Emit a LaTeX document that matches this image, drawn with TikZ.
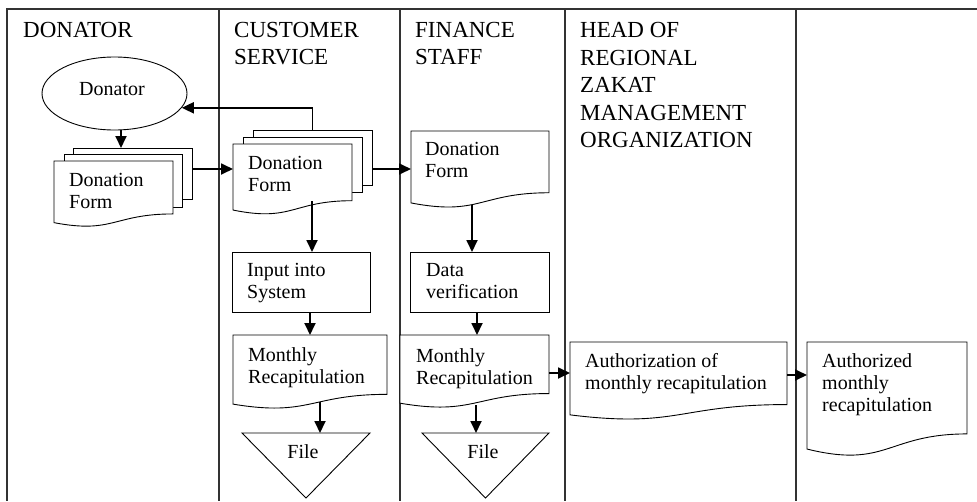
\documentclass[tikz,border=0pt]{standalone}
\usepackage{fontspec}
\setmainfont{Liberation Serif}
\usetikzlibrary{shapes.geometric,arrows.meta,calc}
\newcommand\docshape[1]{\draw[outl] (#1.north west) -- (#1.north east) -- ($(#1.north east)!0.802!(#1.south east)$) .. controls ($(#1.north)!0.802!(#1.south)$) and ($(#1.north)!1.107!(#1.south)$) .. ($(#1.north west)!0.934!(#1.south west)$) -- cycle;}
\newcommand\rectshape[1]{\draw[outl] (#1.north west) rectangle (#1.south east);}
\newcommand\fileshape[1]{\draw[outl] (#1.north west) -- (#1.north east) -- (#1.south) -- cycle;}
\begin{document}
\begin{tikzpicture}[x=1pt,y=-1pt,
  lane/.style={draw=black!80, line width=1.2pt},
  outl/.style={draw=black, line width=0.9pt, fill=white},
  arr/.style={draw=black, line width=1.8pt, -{Triangle[length=12pt,width=11pt]}},
  hdr/.style={anchor=north west, inner sep=0pt, align=left, font=\fontsize{23}{27.5}\selectfont},
  txt/.style={anchor=north west, inner sep=0pt, align=left, font=\fontsize{20}{22}\selectfont},
  ftxt/.style={anchor=base, inner sep=0pt, font=\fontsize{20}{22}\selectfont},
  box/.style={draw=none, inner sep=0pt, outer sep=0pt, anchor=north west},
]
\useasboundingbox (0,0) rectangle (977,501);
% frame and lanes
\draw[lane] (977,9) -- (7,9) -- (7,501);
\foreach \x in {219,400,565,796} \draw[lane] (\x,9) -- (\x,501);
% headers
\node[hdr] (h1) at (23,22.5) {DONATOR};
\node[hdr] (h2) at (234,22) {CUSTOMER\\SERVICE};
\node[hdr] (h3) at (415,22) {FINANCE\\STAFF};
\node[hdr] (h4) at (580,22.5) {HEAD OF\\REGIONAL\\ZAKAT\\MANAGEMENT\\ORGANIZATION};
% donator lane
\node[draw, ellipse, line width=0.9pt, minimum width=145pt, minimum height=73pt, inner sep=0pt] (don) at (114.5,93.5) {};
\node[ftxt, anchor=base west] (donT) at (79,95) {Donator};
\node[box, minimum width=119pt, minimum height=51pt] (dbk) at (73,148) {};
\node[box, minimum width=118pt, minimum height=53pt] (dmd) at (64,154) {};
\node[box, minimum width=119pt, minimum height=66pt] (dfr) at (54,161) {};
\rectshape{dbk}
\rectshape{dmd}
\docshape{dfr}
\node[txt] (dfrT) at (69,173.5) {Donation\\Form};
% customer service lane
\node[box, minimum width=119pt, minimum height=55pt] (cbk) at (253,130) {};
\node[box, minimum width=119pt, minimum height=55pt] (cmd) at (243,137) {};
\node[box, minimum width=119pt, minimum height=70.7pt] (cfr) at (233,144) {};
\rectshape{cbk}
\rectshape{cmd}
\docshape{cfr}
\node[txt] (cfrT) at (248,156.5) {Donation\\Form};
\node[box, minimum width=138pt, minimum height=60pt] (inp) at (232,252) {};
\rectshape{inp}
\node[txt] (inpT) at (247,263.5) {Input into\\System};
\node[box, minimum width=154pt, minimum height=74pt] (cmon) at (233,335) {};
\docshape{cmon}
\node[txt] (cmonT) at (248,347.5) {Monthly\\Recapitulation};
\node[box, minimum width=128pt, minimum height=65pt] (cfile) at (242,433) {};
\fileshape{cfile}
\node[ftxt] (cfileT) at (303,458) {File};
% finance lane
\node[box, minimum width=138pt, minimum height=77pt] (fdoc) at (411,131) {};
\docshape{fdoc}
\node[txt] (fdocT) at (425,142.5) {Donation\\Form};
\node[box, minimum width=139pt, minimum height=60pt] (dat) at (410,252) {};
\rectshape{dat}
\node[txt] (datT) at (426,263.5) {Data\\verification};
\node[box, minimum width=149pt, minimum height=73pt] (fmon) at (400,335) {};
\docshape{fmon}
\node[txt] (fmonT) at (416,348.5) {Monthly\\Recapitulation};
\node[box, minimum width=127pt, minimum height=65pt] (ffile) at (422,433) {};
\fileshape{ffile}
\node[ftxt] (ffileT) at (483,458) {File};
% head lane
\node[box, minimum width=217pt, minimum height=78pt] (auth) at (570,342) {};
\docshape{auth}
\node[txt] (authT) at (585,353.5) {Authorization of\\monthly recapitulation};
\node[box, minimum width=160pt, minimum height=114.6pt] (autd) at (807,342) {};
\docshape{autd}
\node[txt] (autdT) at (822,353.5) {Authorized\\monthly\\recapitulation};
% connectors
\draw[arr] ($(don.south)+(6.5,0)$) -- ($(dbk.north west)+(48,0)$);
\draw[arr] ($(dbk.north east)+(0,21)$) -- ($(cfr.north west)+(0,25)$);
\draw[arr] (cbk.north) |- (don.-12.4);
\draw[arr] ($(cbk.north east)+(0,39)$) -- ($(fdoc.north west)+(0,38)$);
\draw[arr] ($(cfr.north west)+(79,57)$) -- ($(inp.north west)+(80,0)$);
\draw[arr] ($(inp.south west)+(78,0)$) -- ($(cmon.north west)+(77,0)$);
\draw[arr] ($(cmon.north west)+(87,67)$) -- ($(cfile.north west)+(78,0)$);
\draw[arr] ($(fdoc.north west)+(61,74)$) -- ($(dat.north west)+(62,0)$);
\draw[arr] ($(dat.south west)+(67,0)$) -- ($(fmon.north west)+(77,0)$);
\draw[arr] ($(fmon.north west)+(76,70)$) -- ($(ffile.north west)+(54,0)$);
\draw[arr] ($(fmon.north east)+(0,38)$) -- ($(auth.north west)+(0,31)$);
\draw[arr] ($(auth.north east)+(0,33)$) -- ($(autd.north west)+(0,33)$);
\end{tikzpicture}
\end{document}
